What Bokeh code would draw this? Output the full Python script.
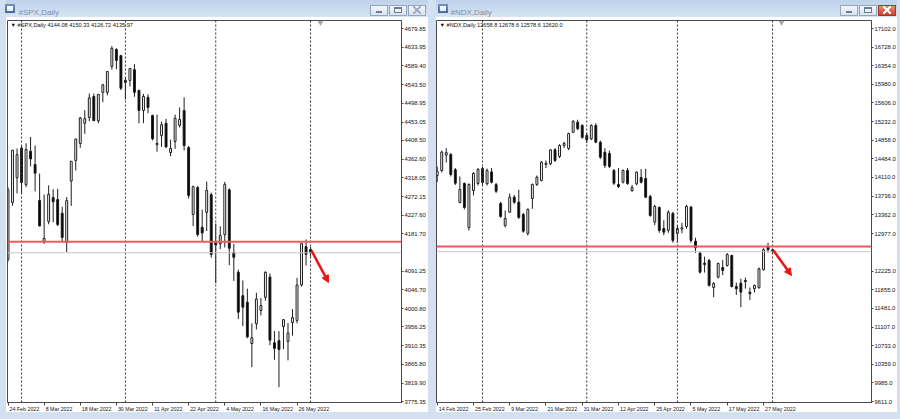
from bokeh.plotting import figure
from bokeh.models import (ColumnDataSource, FixedTicker, Span, Label, Arrow,
                          NormalHead, Range1d, NumeralTickFormatter, LinearAxis)
from bokeh.layouts import row
from bokeh.embed import file_html
from bokeh.resources import INLINE

# ---------------- data: #SPX Daily (24 Feb 2022 .. 1 Jun 2022) ----------------
spx_open = [4120, 4258, 4318, 4390, 4301, 4382, 4350, 4263, 4162, 4212,
            4270, 4265, 4232, 4161, 4310, 4360, 4401, 4450, 4464, 4515,
            4456, 4525, 4525, 4588, 4629, 4614, 4554, 4554, 4580, 4530,
            4481, 4513, 4469, 4398, 4420, 4450, 4379, 4406, 4445, 4481,
            4391, 4229, 4294, 4198, 4234, 4277, 4160, 4158, 4180, 4289,
            4137, 4089, 4032, 4016, 3916, 3964, 3996, 4028, 4077, 3918,
            3923, 3957, 3921, 3967, 3972, 4058, 4151, 4144.08]
spx_high = [4294.7, 4385.3, 4388.8, 4395, 4401.5, 4416.8, 4396, 4328, 4276.9, 4299.4,
            4290, 4291, 4247.6, 4271, 4357.9, 4412.7, 4465.4, 4481.8, 4522, 4522,
            4520.6, 4546, 4575.7, 4637.3, 4632, 4616, 4560, 4583.5, 4593.5, 4531,
            4521.2, 4520.4, 4471, 4471, 4453.9, 4460.5, 4410.3, 4471, 4488.3, 4512.9,
            4395, 4299, 4298, 4240.7, 4308.5, 4282, 4207, 4200.1, 4307.7, 4292,
            4157.7, 4095, 4068.8, 4049.1, 3964.8, 4038.9, 4026.2, 4090.7, 4086, 3946,
            3946, 3975.2, 3966, 3999.3, 4075.1, 4158.5, 4168.3, 4150.33]
spx_low = [4114.6, 4250, 4280, 4279.5, 4295, 4345.6, 4285, 4199.9, 4157.9, 4205,
           4209.8, 4200.5, 4161.7, 4138, 4249.7, 4335.7, 4390.6, 4424.3, 4455, 4455.8,
           4450, 4501.1, 4517.7, 4580, 4581.3, 4530.4, 4507.6, 4539.2, 4514.2, 4450,
           4450.3, 4474.6, 4408.4, 4381.3, 4392.7, 4390.8, 4370.3, 4388, 4440, 4384.5,
           4267.6, 4200.8, 4175, 4162.9, 4188.6, 4124.3, 4062.5, 4145, 4148.9, 4106,
           4067.9, 3975.5, 3958.2, 3928.8, 3858.9, 3950, 3984, 4020, 3911.9, 3876.6,
           3810.3, 3902.4, 3875.1, 3935, 3965, 4054, 4104.9, 4126.72]
spx_close = [4288.7, 4384.7, 4373.9, 4306.3, 4386.5, 4363.5, 4328.9, 4201.1, 4170.7, 4277.9,
             4259.5, 4204.3, 4173.1, 4262.5, 4357.9, 4411.7, 4463.1, 4461.2, 4511.6, 4456.2,
             4520.2, 4543.1, 4575.5, 4631.6, 4602.5, 4535, 4549, 4582.6, 4525.1, 4481.2,
             4515, 4488.3, 4412.5, 4401, 4446.6, 4392.6, 4389, 4462.2, 4459.5, 4396,
             4275, 4296.1, 4180, 4184, 4287.5, 4131.9, 4155, 4178, 4302, 4146.9,
             4125, 3992, 4004, 3932, 3930, 4023.9, 4008, 4088.9, 3924, 3904,
             3901.4, 3973.8, 3941.5, 3978.7, 4057.8, 4158.2, 4132.2, 4135.97]
spx_tick_bars = [0, 8, 16, 24, 32, 40, 48, 56, 64]
spx_tick_labels = ["24 Feb 2022", "8 Mar 2022", "18 Mar 2022", "30 Mar 2022", "11 Apr 2022",
                   "22 Apr 2022", "4 May 2022", "16 May 2022", "26 May 2022"]
spx_price_ticks = [4679.85, 4633.95, 4589.40, 4543.50, 4498.95, 4453.05, 4408.50, 4362.60,
                   4318.05, 4272.15, 4227.60, 4181.70, 4091.25, 4046.70, 4000.80, 3956.25,
                   3910.35, 3865.80, 3819.90, 3775.35]
spx_month_starts = [3, 26, 46, 67]
spx_level = 4163.0
spx_last = 4135.97
spx_header = "\u25bc #SPX,Daily  4144.08 4150.33 4126.72 4135.97"

# ---------------- data: #NDX Daily (14 Feb 2022 .. 1 Jun 2022) ----------------
ndx_open = [14150, 14250, 14560, 14570, 14265, 13608, 13990, 13106, 13849, 13990,
            14290, 13984, 14222, 13970, 13588, 13146, 13413, 13715, 13614, 13367,
            12986, 13688, 13970, 14050, 14371, 14385, 14666, 14532, 14753, 14692,
            15020, 15221, 15154, 14953, 14887, 15154, 14819, 14618, 14592, 14251,
            13970, 14016, 14251, 13849, 13984, 14110, 14090, 13729, 13213, 13508,
            13086, 13050, 13387, 12986, 13072, 13126, 13515, 12831, 12590, 12389,
            12443, 11901, 12108, 12303, 12343, 12544, 11921, 11988, 12040, 11807,
            11875, 11895, 12257, 12724, 12658.8]
ndx_high = [14330, 14650, 14700, 14600, 14300, 14130, 14010, 13990, 14220, 14300,
            14320, 14290, 14300, 14000, 13620, 13447, 13790, 13760, 13863, 13400,
            13490, 13990, 14150, 14440, 14450, 14680, 14700, 14780, 14830, 15010,
            15260, 15270, 15180, 15000, 15180, 15200, 14850, 14700, 14650, 14280,
            14300, 14270, 14300, 13960, 14230, 14280, 14285, 13760, 13560, 13530,
            13250, 13450, 13420, 13150, 13200, 13560, 13540, 12900, 12620, 12520,
            12480, 12010, 12400, 12450, 12590, 12560, 12000, 12076, 12100, 11900,
            11960, 12300, 12690, 12800, 12678.6]
ndx_low = [14020, 14210, 14410, 14130, 13960, 13590, 13470, 13046, 13750, 13950,
           13960, 13950, 13990, 13800, 13300, 13106, 13400, 13580, 13280, 13000,
           12945, 13480, 13940, 14030, 14300, 14360, 14420, 14500, 14700, 14660,
           15000, 15060, 14890, 14800, 14860, 14800, 14480, 14300, 14300, 13960,
           13900, 13990, 13960, 13820, 13950, 13990, 13700, 13320, 13150, 13000,
           12950, 13000, 12800, 12800, 12990, 13080, 12800, 12600, 12180, 12200,
           11920, 11707, 12080, 12150, 12320, 11900, 11750, 11506, 11880, 11650,
           11800, 11880, 12240, 12600, 12578.6]
ndx_close = [14230, 14620, 14610, 14170, 13996, 13869, 13508, 13970, 14190, 14270,
             14010, 14251, 14016, 13835, 13327, 13287, 13715, 13614, 13307, 13032,
             13468, 13970, 14116, 14417, 14397, 14666, 14451, 14753, 14793, 14994,
             15241, 15088, 14913, 14867, 15154, 14819, 14518, 14351, 14331, 13996,
             13929, 14251, 13990, 13909, 14218, 14016, 13715, 13347, 13528, 13046,
             13012, 13413, 12845, 13086, 13100, 13528, 12845, 12698, 12209, 12363,
             11942, 11982, 12383, 12243, 12564, 11921, 11875, 11807, 12020, 11775,
             11942, 12277, 12658, 12658, 12620.0]
ndx_tick_bars = [0, 8, 16, 24, 32, 40, 48, 56, 64, 72]
ndx_tick_labels = ["14 Feb 2022", "25 Feb 2022", "9 Mar 2022", "21 Mar 2022", "31 Mar 2022",
                   "12 Apr 2022", "25 Apr 2022", "5 May 2022", "17 May 2022", "27 May 2022"]
ndx_price_ticks = [17102.0, 16728.0, 16354.0, 15980.0, 15606.0, 15232.0, 14858.0, 14484.0,
                   14110.0, 13736.0, 13362.0, 12977.0, 12225.0, 11855.0, 11481.0, 11107.0,
                   10733.0, 10359.0, 9985.0, 9611.0]
ndx_month_starts = [10, 33, 53, 74]
ndx_level = 12724.0
ndx_last = 12620.0
ndx_header = "\u25bc #NDX,Daily  12658.8 12678.6 12578.6 12620.0"

# ---------------- styling ----------------
FONT = "Liberation Sans"
WIN = "#d3e0f0"
INK = "#1e1e1e"
DATE_PX = 5.3
# Arial/Liberation advance widths (1/1000 em), used to left-align date labels like MT4
ADV = {" ": 278, "F": 611, "M": 833, "A": 667, "e": 556, "b": 556, "a": 556, "r": 333,
       "p": 556, "y": 500}


def text_w(s, size):
    return sum(ADV.get(ch, 556) for ch in s) * size / 1000.0


class Map:
    """pixel layout of one MT4 window (page pixel -> data)"""
    def __init__(self, bar0_px, px_per_bar, ref_y, ref_price, price_per_px):
        self.b0, self.pb, self.ry, self.rp, self.pp = bar0_px, px_per_bar, ref_y, ref_price, price_per_px

    def bx(self, px):
        return (px - self.b0) / self.pb

    def py(self, py):
        return self.rp - (py - self.ry) * self.pp


def solid(col, x, y, w, h):
    return f"linear-gradient({col},{col}) {x}px {y}px / {w}px {h}px no-repeat"


def diag(col, ang, x, y, s):
    return (f"linear-gradient({ang}deg, transparent 42%, {col} 42% 58%, transparent 58%) "
            f"{x}px {y}px / {s}px {s}px no-repeat")


def chrome(width, side_l, side_r, buttons, close_red, icon_x):
    glyph = "#6b7d95"
    b0, b1, b2 = buttons
    xcol = "white" if close_red else "#a3b1c4"
    layers = [
        # button glyphs: minimize bar, maximize box, close cross
        solid(glyph, b0 + 6, 11, 6, 2),
        solid("#eef2f8", b1 + 6, 9, 6, 3),
        solid(glyph, b1 + 5, 7, 8, 6),
        diag(xcol, 45, b2 + 5, 6, 8),
        diag(xcol, -45, b2 + 5, 6, 8),
        # window icon
        f"linear-gradient(#ffffff,#dfe9f6) {icon_x + 2}px 6px / 6px 5px no-repeat",
        f"linear-gradient(#6f95cc,#44679e) {icon_x}px 4px / 10px 9px no-repeat",
    ]
    for i, bx in enumerate(buttons):
        red = close_red and i == 2
        inner = "linear-gradient(#ef8b78,#c8402c)" if red else "linear-gradient(#f4f7fb,#d9e2ee)"
        layers.append(f"{inner} {bx + 1}px 6px / 16px 9px no-repeat")
    for i, bx in enumerate(buttons):
        red = close_red and i == 2
        layers.append(solid("#9c3a2c" if red else "#93a6bf", bx, 5, 18, 11))
    layers.append(f"linear-gradient(to right, {WIN} 0px {side_l}px, transparent {side_l}px "
                  f"{width - side_r}px, {WIN} {width - side_r}px)")
    layers.append(f"linear-gradient(to bottom, #bed2ea 0px, #d7e4f3 17px, white 17px 412px, "
                  f"{WIN} 412px)")
    return {"background": ", ".join(layers)}


def panel(title, o, h, l, c, tick_bars, tick_labels, price_ticks, months, level,
          last, header, m, frame_l, frame_r, width, border_l, border_r, fmt,
          level_tag, arrow_end, shift_px, buttons_x, close_red, side_l, side_r, title_off,
          icon_x):
    p = figure(width=width, height=419, title=title,
               x_range=Range1d(m.bx(frame_l), m.bx(frame_r)),
               y_range=Range1d(m.py(402), m.py(20)),
               y_axis_location="right", output_backend="svg", toolbar_location=None,
               min_border_left=border_l, min_border_right=border_r,
               min_border_top=20, min_border_bottom=17,
               background_fill_color="white", border_fill_color=None, border_fill_alpha=0,
               outline_line_color="#4a4a4a",
               styles=chrome(width, side_l, side_r, buttons_x, close_red, icon_x))
    p.grid.visible = False
    p.title.text_font = FONT
    p.title.text_font_size = "8px"
    p.title.text_font_style = "normal"
    p.title.text_color = "#8090a8"
    p.title.offset = title_off
    p.title.standoff = 8

    # x axis 1: tick marks only (at the bars)
    ax = p.xaxis[0]
    ax.ticker = FixedTicker(ticks=tick_bars)
    ax.major_label_overrides = {b: "" for b in tick_bars}
    ax.major_label_standoff = 0
    ax.major_label_text_font_size = "1px"
    # x axis 2: date labels, left-aligned next to their tick like MT4
    centers = [b + (text_w(s, DATE_PX) / 2 + 1.5) / m.pb for b, s in zip(tick_bars, tick_labels)]
    ax2 = LinearAxis(ticker=FixedTicker(ticks=centers),
                     major_label_overrides={cpos: s for cpos, s in zip(centers, tick_labels)},
                     axis_line_color=None, major_tick_line_color=None, minor_tick_line_color=None,
                     major_tick_out=0, major_tick_in=0,
                     major_label_standoff=0, major_label_text_font=FONT,
                     major_label_text_font_size=f"{DATE_PX}px", major_label_text_color="#111111")
    p.add_layout(ax2, "below")

    ay = p.yaxis[0]
    ay.ticker = FixedTicker(ticks=price_ticks)
    ay.formatter = NumeralTickFormatter(format=fmt)
    ay.major_label_text_font_size = "5.9px"
    ay.major_label_standoff = 1
    for a in (ax, ay):
        a.minor_tick_line_color = None
        a.major_tick_in = 0
        a.major_tick_out = 2
        a.major_tick_line_color = "#444444"
        a.axis_line_color = "#4a4a4a"
        a.major_label_text_font = FONT
        a.major_label_text_color = "#111111"
    ax.major_tick_out = 3

    for mb in months:
        p.add_layout(Span(location=mb, dimension="height", line_color="#333333",
                          line_dash="2 2", line_width=1))
    p.add_layout(Span(location=last, dimension="width", line_color="#c6c6c6", line_width=1))
    p.add_layout(Span(location=level, dimension="width", line_color="#f05a5a", line_width=2))

    n = len(o)
    bars = list(range(n))
    src = ColumnDataSource(dict(
        x=bars, hi=h, lo=l,
        top=[max(a, b) for a, b in zip(o, c)],
        bot=[min(a, b) for a, b in zip(o, c)],
        fill=["white" if cc >= oo else "black" for oo, cc in zip(o, c)]))
    p.segment(x0="x", y0="hi", x1="x", y1="lo", source=src, line_color=INK, line_width=1)
    p.vbar(x="x", width=0.42, top="top", bottom="bot", source=src,
           fill_color="fill", line_color=INK, line_width=1)

    # chart header (top-left of chart)
    p.add_layout(Label(x=m.bx(frame_l + 3), y=m.py(24.5), text=header, text_font=FONT,
                       text_font_size="5.6px", text_color="#111111", text_baseline="middle"))
    # chart shift marker
    p.scatter(x=[m.bx(shift_px)], y=[m.py(22)], marker="inverted_triangle", size=6,
              fill_color="#a8a8a8", line_color=None)

    # red arrow from the last bar
    p.add_layout(Arrow(x_start=n - 1 + 0.2, y_start=m.py(250), x_end=m.bx(arrow_end[0]),
                       y_end=m.py(arrow_end[1]), line_color="#ee1111", line_width=2.5,
                       end=NormalHead(size=7, fill_color="#ee1111", line_color="#ee1111")))

    # price tags on the scale
    tag_x = m.bx(frame_r + 1)
    if level_tag:
        p.add_layout(Label(x=tag_x, y=level, text=f"{level:.1f}", text_font=FONT,
                           text_font_size="5.9px", text_color="white", text_baseline="middle",
                           background_fill_color="#f02828"))
    p.add_layout(Label(x=tag_x, y=last, text=(f"{last:.2f}" if fmt == "0.00" else f"{last:.1f}"),
                       text_font=FONT, text_font_size="5.9px", text_color="white",
                       text_baseline="middle", background_fill_color="black"))
    return p


left_map = Map(7.5, 4.516, 28, 4679.85, 2.4249)
right_map = Map(436.7, 4.532, 28, 17102.0, 20.083)

left = panel("#SPX,Daily", spx_open, spx_high, spx_low, spx_close, spx_tick_bars,
             spx_tick_labels, spx_price_ticks, spx_month_starts, spx_level, spx_last,
             spx_header, left_map, 7, 401, 432, 7, 31, "0.00", False, (328, 282), 320,
             (370, 389, 408), False, 6, 4, 11, 5)
right = panel("#NDX,Daily", ndx_open, ndx_high, ndx_low, ndx_close, ndx_tick_bars,
              ndx_tick_labels, ndx_price_ticks, ndx_month_starts, ndx_level, ndx_last,
              ndx_header, right_map, 436, 871, 468, 4, 29, "0.0", True, (791, 275), 781,
              (408, 427, 446), True, 4, 3, 14, 6)

layout = row(left, right)
open("out.html", "w").write(file_html(layout, INLINE))
